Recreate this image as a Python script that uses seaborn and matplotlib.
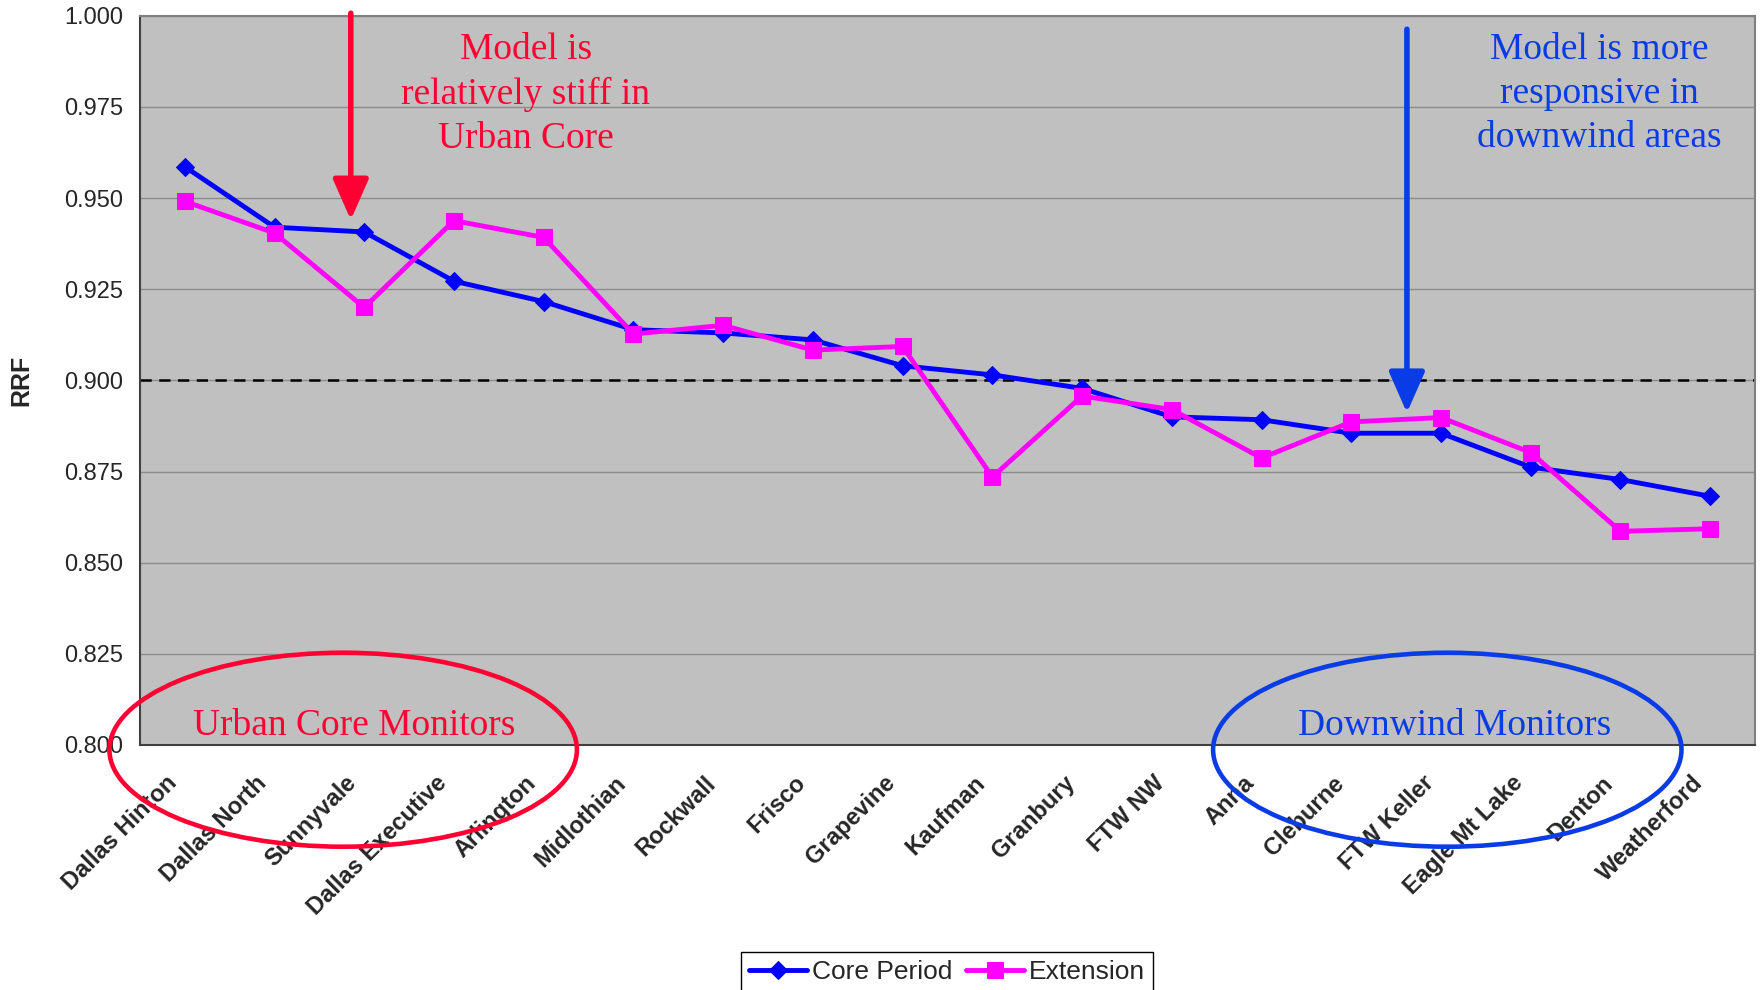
import numpy as np
import pandas as pd
import matplotlib
matplotlib.use("Agg")
import matplotlib.pyplot as plt
from matplotlib.patches import Ellipse
from matplotlib.transforms import ScaledTranslation
import seaborn as sns

# datos
sites = ["Dallas Hinton", "Dallas North", "Sunnyvale", "Dallas Executive", "Arlington",
         "Midlothian", "Rockwall", "Frisco", "Grapevine", "Kaufman", "Granbury",
         "FTW NW", "Anna", "Cleburne", "FTW Keller", "Eagle Mt Lake", "Denton",
         "Weatherford"]
core_period = [0.9586, 0.9420, 0.9407, 0.9272, 0.9216, 0.9139, 0.9130, 0.9111, 0.9040,
               0.9015, 0.8978, 0.8900, 0.8892, 0.8855, 0.8855, 0.8762, 0.8728, 0.8682]
extension = [0.9491, 0.9404, 0.9200, 0.9438, 0.9392, 0.9127, 0.9151, 0.9083, 0.9093,
             0.8735, 0.8957, 0.8920, 0.8787, 0.8886, 0.8898, 0.8802, 0.8586, 0.8593]
threshold = 0.900
y_ticks = [0.800, 0.825, 0.850, 0.875, 0.900, 0.925, 0.950, 0.975, 1.000]

df = pd.DataFrame({"pos": np.arange(len(sites)), "site": sites,
                   "Core Period": core_period, "Extension": extension})

sns.set_style("white")
plt.rcParams["font.family"] = ["Liberation Sans", "DejaVu Sans"]

red = "#FF0033"
blue_txt = "#0A3CE6"

fig = plt.figure(figsize=(17.6, 9.9), dpi=100)
ax = fig.add_axes([0.0795, 0.2475, 0.9177, 0.7366])
ax.set_facecolor("#C0C0C0")

# lineas
sns.lineplot(data=df, x="pos", y="Core Period", ax=ax, color="#0000FF", lw=3.5,
             marker="D", markersize=9, markeredgecolor="#0000FF", label="Core Period")
sns.lineplot(data=df, x="pos", y="Extension", ax=ax, color="#FF00FF", lw=3.5,
             marker="s", markersize=11, markeredgecolor="#FF00FF", label="Extension")

ax.axhline(threshold, color="black", lw=1.8, ls=(0, (4.5, 3)), zorder=1.5)

ax.set_xlim(-0.5, len(sites) - 0.5)
ax.set_ylim(0.8, 1.0)
ax.set_yticks(y_ticks)
ax.set_yticklabels([f"{v:.3f}" for v in y_ticks], fontsize=17)
ax.yaxis.grid(True, color="#8C8C8C", lw=1)
ax.xaxis.grid(False)
ax.set_axisbelow(True)

ax.set_xticks(df["pos"])
ax.set_xticklabels(sites, rotation=45, ha="right", va="center",
                   rotation_mode="anchor", fontsize=17, fontweight="bold")
ax.set_xticks(np.arange(-0.5, len(sites)), minor=True)
ax.tick_params(axis="x", which="major", length=0, pad=25)
ax.tick_params(axis="x", which="minor", length=5.7, width=1.2, color="#333333", direction="out")
ax.tick_params(axis="y", length=4.3, width=1.2, color="#333333", pad=8, direction="out")

# mover etiquetas un poco a la izquierda
shift = ScaledTranslation(-0.11, 0, fig.dpi_scale_trans)
for lab in ax.get_xticklabels():
    lab.set_transform(lab.get_transform() + shift)

ax.set_xlabel("")
ax.set_ylabel("RRF", fontsize=18, fontweight="bold")
ax.yaxis.set_label_coords(-0.066, 0.5)

for side in ["left", "bottom"]:
    ax.spines[side].set_color("#404040")
    ax.spines[side].set_linewidth(1.5)
for side in ["top", "right"]:
    ax.spines[side].set_color("#808080")
    ax.spines[side].set_linewidth(1.5)

# anotaciones
serif = ["Liberation Serif", "DejaVu Serif"]
ax.text(3.80, 0.9637, "Model is\nrelatively stiff in\nUrban Core", color=red,
        fontsize=27, family=serif, ha="center", va="baseline",
        multialignment="center", linespacing=1.36)
ax.text(15.76, 0.9640, "Model is more\nresponsive in\ndownwind areas", color=blue_txt,
        fontsize=27, family=serif, ha="center", va="baseline",
        multialignment="center", linespacing=1.36)
ax.text(1.89, 0.8027, "Urban Core Monitors", color=red, fontsize=27, family=serif,
        ha="center", va="baseline")
ax.text(14.15, 0.8027, "Downwind Monitors", color=blue_txt, fontsize=27, family=serif,
        ha="center", va="baseline")

ax.annotate("", xy=(1.85, 0.9440), xytext=(1.85, 1.0007),
            arrowprops=dict(arrowstyle="-|>,head_length=1.25,head_width=0.55",
                            mutation_scale=20, lw=4, color=red, shrinkA=0, shrinkB=0),
            annotation_clip=False)
ax.annotate("", xy=(13.62, 0.8911), xytext=(13.62, 0.9963),
            arrowprops=dict(arrowstyle="-|>,head_length=1.25,head_width=0.55",
                            mutation_scale=20, lw=4, color=blue_txt, shrinkA=0, shrinkB=0),
            annotation_clip=False)

ax.add_patch(Ellipse((1.765, 0.7987), 5.21, 0.0532, fill=False, edgecolor=red,
                     lw=3.3, clip_on=False, zorder=5))
ax.add_patch(Ellipse((14.07, 0.7987), 5.22, 0.0532, fill=False, edgecolor=blue_txt,
                     lw=3.3, clip_on=False, zorder=5))

# leyenda
handles, labels = ax.get_legend_handles_labels()
ax.legend_.remove()
leg = fig.legend(handles, labels, loc="upper left", bbox_to_anchor=(741 / 1760, 1 - 952 / 990),
                 ncol=2, fontsize=19, frameon=True, fancybox=False, edgecolor="black",
                 framealpha=1, handlelength=2.2, handletextpad=0.2, columnspacing=0.5,
                 borderpad=0.3, borderaxespad=0)
leg.get_frame().set_linewidth(1)

fig.savefig("out.png", dpi=100, facecolor="white")
